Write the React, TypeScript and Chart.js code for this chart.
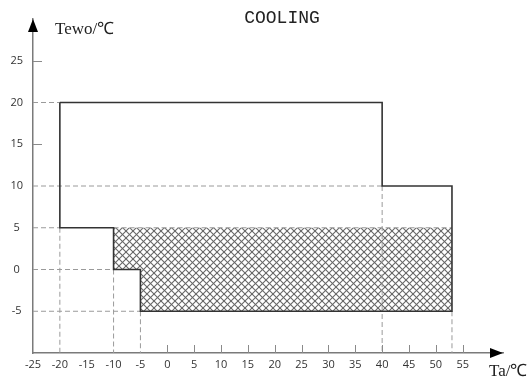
import React, { useEffect, useRef } from 'react';
import { Chart, registerables } from 'chart.js';

Chart.register(...registerables);

// ---- data ----
const titleText = 'COOLING';
const xAxisName = 'Ta/℃';
const yAxisName = 'Tewo/℃';

const xTickValues = [-25, -20, -15, -10, -5, 0, 5, 10, 15, 20, 25, 30, 35, 40, 45, 50, 55];
const yTickValues = [-5, 0, 5, 10, 15, 20, 25];
const xMarkValues = [0, 5, 10, 15, 20, 25, 30, 35, 40, 45, 50, 55];
const yMarkValues = [15, 25];

// operating envelope (solid outline)
const envelopeTa = [-20, 40, 40, 53, 53, -5, -5, -10, -10, -20, -20];
const envelopeTewo = [20, 20, 10, 10, -5, -5, 0, 0, 5, 5, 20];

// hatched region
const hatchTa = [-10, 53, 53, -5, -5, -10, -10];
const hatchTewo = [5, 5, -5, -5, 0, 0, 5];

// dashed guide lines: [start, end]
const guideTa = [
  [-25, -20], [-25, 40], [-25, -20], [-10, 53], [-25, -10], [-25, -5],
  [-20, -20], [-10, -10], [-5, -5], [40, 40], [53, 53],
];
const guideTewo = [
  [20, 20], [10, 10], [5, 5], [5, 5], [0, 0], [-5, -5],
  [5, -10], [0, -10], [-5, -10], [10, -10], [-5, -10],
];

const X_MIN = -25;
const X_MAX = 62.5;
const Y_MIN = -10;
const Y_MAX = 30;

function makeHatch(): CanvasPattern | string {
  const s = 7;
  const c = document.createElement('canvas');
  c.width = s;
  c.height = s;
  const g = c.getContext('2d');
  if (!g) return '#999';
  g.strokeStyle = '#666';
  g.lineWidth = 1.1;
  for (const off of [-s, 0, s]) {
    g.beginPath();
    g.moveTo(-1 + off, -1);
    g.lineTo(s + 1 + off, s + 1);
    g.stroke();
    g.beginPath();
    g.moveTo(-1 + off, s + 1);
    g.lineTo(s + 1 + off, -1);
    g.stroke();
  }
  const p = g.createPattern(c, 'repeat');
  return p || '#999';
}

export default function App() {
  const ref = useRef<HTMLCanvasElement | null>(null);

  useEffect(() => {
    document.body.style.margin = '0';
    const canvas = ref.current;
    if (!canvas) return;
    const hatch = makeHatch();

    const guideSets = guideTa.map((xs, i) => ({
      label: 'guide' + i,
      data: xs.map((x, j) => ({ x, y: guideTewo[i][j] })),
      showLine: true,
      borderColor: '#9a9a9a',
      borderWidth: 1,
      borderDash: [5, 3],
      pointRadius: 0,
      fill: false,
    }));

    const decor = {
      id: 'decor',
      beforeDatasetsDraw(chart: any) {
        const ctx = chart.ctx;
        const idx = chart.data.datasets.findIndex((d: any) => d.label === 'hatch');
        const meta = chart.getDatasetMeta(idx);
        const pts = meta.data;
        if (!pts.length) return;
        ctx.save();
        ctx.beginPath();
        ctx.moveTo(pts[0].x, pts[0].y);
        for (let i = 1; i < pts.length; i++) ctx.lineTo(pts[i].x, pts[i].y);
        ctx.closePath();
        ctx.fillStyle = hatch;
        ctx.fill();
        ctx.restore();
      },
      afterDraw(chart: any) {
        const ctx = chart.ctx;
        const { left, right, top, bottom } = chart.chartArea;
        const xs = chart.scales.x;
        const ys = chart.scales.y;
        ctx.save();
        // tick marks
        ctx.strokeStyle = '#8a8a8a';
        ctx.lineWidth = 1;
        for (const v of xMarkValues) {
          const px = Math.round(xs.getPixelForValue(v)) + 0.5;
          ctx.beginPath();
          ctx.moveTo(px, bottom);
          ctx.lineTo(px, bottom - 8);
          ctx.stroke();
        }
        for (const v of yMarkValues) {
          const py = Math.round(ys.getPixelForValue(v)) + 0.5;
          ctx.beginPath();
          ctx.moveTo(left, py);
          ctx.lineTo(left + 9, py);
          ctx.stroke();
        }
        // arrows
        ctx.fillStyle = '#000';
        ctx.beginPath();
        ctx.moveTo(left, top);
        ctx.lineTo(left - 5, top + 13);
        ctx.lineTo(left + 5, top + 13);
        ctx.closePath();
        ctx.fill();
        ctx.beginPath();
        ctx.moveTo(right, bottom);
        ctx.lineTo(right - 13, bottom - 5);
        ctx.lineTo(right - 13, bottom + 5);
        ctx.closePath();
        ctx.fill();
        // texts
        ctx.fillStyle = '#222';
        ctx.textBaseline = 'middle';
        ctx.textAlign = 'center';
        ctx.font = '18px "Liberation Mono"';
        ctx.fillText(titleText, 282, 18);
        ctx.textAlign = 'left';
        ctx.font = '17px "Liberation Serif"';
        ctx.fillText(yAxisName, 55, 30);
        ctx.fillText(xAxisName, 489, 372);
        ctx.restore();
      },
    };

    const chart = new Chart(canvas, {
      type: 'scatter',
      data: {
        datasets: [
          {
            label: 'envelope',
            data: envelopeTa.map((x, i) => ({ x, y: envelopeTewo[i] })),
            showLine: true,
            borderColor: '#333',
            borderWidth: 1.6,
            pointRadius: 0,
            tension: 0,
            fill: false,
          },
          ...guideSets,
          {
            label: 'hatch',
            data: hatchTa.map((x, i) => ({ x, y: hatchTewo[i] })),
            showLine: false,
            pointRadius: 0,
            borderWidth: 0,
          },
        ] as any,
      },
      options: {
        animation: false,
        responsive: false,
        devicePixelRatio: 1,
        layout: { padding: { top: 19, right: 28, left: 0, bottom: 0 } },
        plugins: {
          legend: { display: false },
          tooltip: { enabled: false },
          title: { display: false },
        },
        scales: {
          x: {
            type: 'linear',
            min: X_MIN,
            max: X_MAX,
            afterBuildTicks: (s: any) => {
              s.ticks = xTickValues.map((v) => ({ value: v }));
            },
            afterFit: (s: any) => {
              s.height = 29;
            },
            grid: { display: false, drawTicks: false },
            border: { display: true, color: '#7a7a7a', width: 1.5 },
            ticks: {
              autoSkip: false,
              maxRotation: 0,
              padding: 5,
              color: '#333',
              font: { family: '"Open Sans"', size: 11 },
              callback: (v: any) => String(v),
            },
          },
          y: {
            type: 'linear',
            min: Y_MIN,
            max: Y_MAX,
            afterBuildTicks: (s: any) => {
              s.ticks = yTickValues.map((v) => ({ value: v }));
            },
            afterFit: (s: any) => {
              s.width = 33;
            },
            grid: { display: false, drawTicks: false },
            border: { display: true, color: '#7a7a7a', width: 1.5 },
            ticks: {
              autoSkip: false,
              padding: 10,
              crossAlign: 'center',
              color: '#333',
              font: { family: '"Open Sans"', size: 11 },
              callback: (v: any) => String(v),
            },
          },
        },
      } as any,
      plugins: [decor],
    });

    return () => chart.destroy();
  }, []);

  return (
    <div style={{ position: 'absolute', left: 0, top: 0, width: 531, height: 382 }}>
      <canvas ref={ref} width={531} height={382} style={{ width: 531, height: 382, display: 'block' }} />
    </div>
  );
}
